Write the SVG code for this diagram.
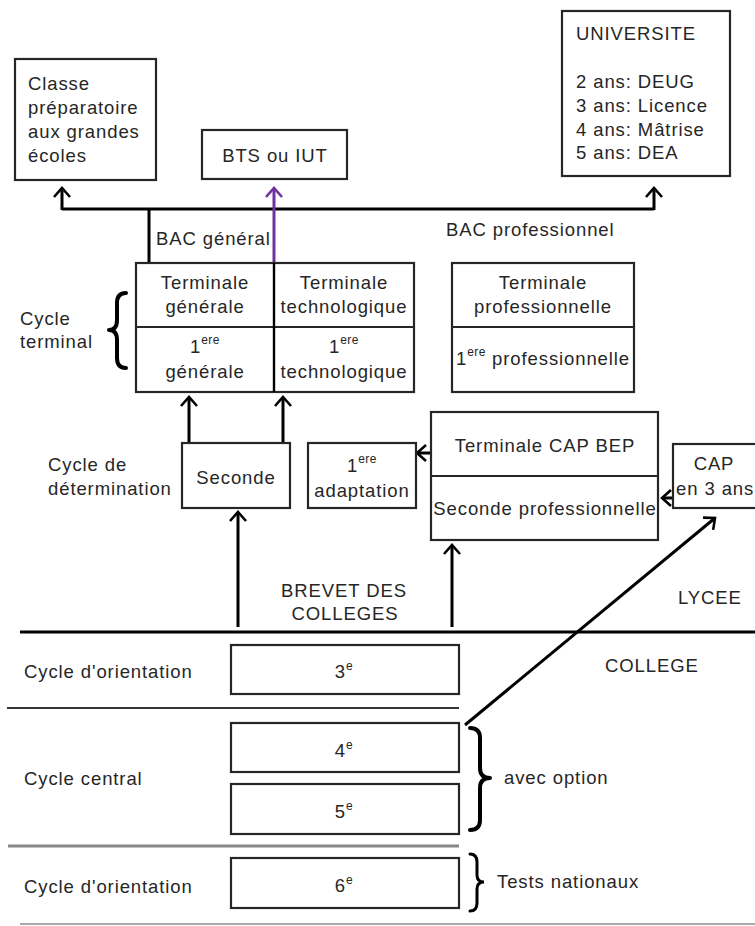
<svg xmlns="http://www.w3.org/2000/svg" width="755" height="926" viewBox="0 0 755 926">
<style>
text{font-family:"Liberation Sans",Arial,sans-serif;font-size:18.5px;letter-spacing:0.9px;fill:#262626}
.c{text-anchor:middle}
.sup{font-size:12px;letter-spacing:0.5px}
.box{fill:#fff;stroke:#262626;stroke-width:2.2}
.ln{stroke:#000;stroke-width:3;fill:none}
.br{stroke:#000;stroke-width:4;fill:none;stroke-linecap:round;stroke-linejoin:round}
</style>
<defs>
<marker id="ah" viewBox="-11 -10 14 20" markerWidth="14" markerHeight="20" refX="0" refY="0" orient="auto" markerUnits="userSpaceOnUse">
<path d="M-9,-8 L0,0 L-9,8" fill="none" stroke="#000" stroke-width="2.6"/>
</marker>
<marker id="ahp" viewBox="-11 -10 14 20" markerWidth="14" markerHeight="20" refX="0" refY="0" orient="auto" markerUnits="userSpaceOnUse">
<path d="M-9,-8 L0,0 L-9,8" fill="none" stroke="#7030a0" stroke-width="2.6"/>
</marker>
</defs>
<rect width="755" height="926" fill="#fff"/>

<g id="connectors">
<line class="ln" x1="62" y1="209" x2="654" y2="209"/>
<line class="ln" x1="62" y1="210" x2="62" y2="188" marker-end="url(#ah)"/>
<line class="ln" x1="654" y1="210" x2="654" y2="188" marker-end="url(#ah)"/>
<line class="ln" x1="149" y1="208" x2="149" y2="263"/>
<line x1="274" y1="263" x2="274" y2="188" stroke="#7030a0" stroke-width="3" marker-end="url(#ahp)"/>
<line class="ln" x1="189" y1="443" x2="189" y2="397" marker-end="url(#ah)"/>
<line class="ln" x1="283" y1="443" x2="283" y2="397" marker-end="url(#ah)"/>
<line class="ln" x1="238" y1="627" x2="238" y2="512" marker-end="url(#ah)"/>
<line class="ln" x1="452" y1="627" x2="452" y2="545" marker-end="url(#ah)"/>
<line class="ln" x1="465" y1="725" x2="715" y2="518" marker-end="url(#ah)"/>
<line class="ln" x1="431" y1="453" x2="417" y2="453" marker-end="url(#ah)"/>
<line class="ln" x1="673" y1="498" x2="662" y2="498" marker-end="url(#ah)"/>
</g>

<g id="separators">
<line x1="20" y1="632" x2="755" y2="632" stroke="#000" stroke-width="3.2"/>
<line x1="7" y1="708" x2="459" y2="708" stroke="#333" stroke-width="2"/>
<line x1="8" y1="846" x2="459" y2="846" stroke="#888" stroke-width="3"/>
<line x1="20" y1="924" x2="755" y2="924" stroke="#aaa" stroke-width="2"/>
</g>

<g id="classe-prepa">
<rect class="box" x="15" y="59" width="141" height="121"/>
<text x="28" y="90">Classe</text>
<text x="28" y="114">préparatoire</text>
<text x="28" y="138">aux grandes</text>
<text x="28" y="162">écoles</text>
</g>

<g id="bts">
<rect class="box" x="202" y="130" width="145" height="49"/>
<text class="c" x="275" y="162">BTS ou IUT</text>
</g>

<g id="universite">
<rect class="box" x="562" y="11" width="168" height="165"/>
<text x="576" y="40">UNIVERSITE</text>
<text x="576" y="88">2 ans: DEUG</text>
<text x="576" y="112">3 ans: Licence</text>
<text x="576" y="136">4 ans: Mâtrise</text>
<text x="576" y="159">5 ans: DEA</text>
</g>

<g id="bac-labels">
<text x="156" y="245">BAC général</text>
<text x="446" y="236">BAC professionnel</text>
</g>

<g id="cycle-terminal">
<text x="20" y="325">Cycle</text>
<text x="20" y="348">terminal</text>
<path class="br" d="M126,293 Q117,293 117,303 L117,320 Q117,330 109,330 Q117,330 117,340 L117,358 Q117,368 126,368"/>
</g>

<g id="grid-general-techno">
<rect class="box" x="136" y="263" width="278" height="129"/>
<line x1="136" y1="327" x2="414" y2="327" stroke="#262626" stroke-width="2.2"/>
<line x1="274" y1="263" x2="274" y2="392" stroke="#000" stroke-width="2.4"/>
<text class="c" x="205" y="289">Terminale</text>
<text class="c" x="205" y="313">générale</text>
<text class="c" x="344" y="289">Terminale</text>
<text class="c" x="344" y="313">technologique</text>
<text class="c" x="205" y="353">1<tspan class="sup" dy="-9">ere</tspan></text>
<text class="c" x="205" y="378">générale</text>
<text class="c" x="344" y="353">1<tspan class="sup" dy="-9">ere</tspan></text>
<text class="c" x="344" y="378">technologique</text>
</g>

<g id="terminale-pro">
<rect class="box" x="452" y="263" width="182" height="129"/>
<line x1="452" y1="327" x2="634" y2="327" stroke="#262626" stroke-width="2.2"/>
<text class="c" x="543" y="289">Terminale</text>
<text class="c" x="543" y="313">professionnelle</text>
<text class="c" x="543" y="365">1<tspan class="sup" dy="-9">ere</tspan><tspan dy="9"> professionnelle</tspan></text>
</g>

<g id="cycle-determination">
<text x="48" y="471">Cycle de</text>
<text x="48" y="495">détermination</text>
</g>

<g id="seconde">
<rect class="box" x="182" y="443" width="108" height="65"/>
<text class="c" x="236" y="484">Seconde</text>
</g>

<g id="adaptation">
<rect class="box" x="308" y="443" width="108" height="65"/>
<text class="c" x="362" y="472">1<tspan class="sup" dy="-9">ere</tspan></text>
<text class="c" x="362" y="497">adaptation</text>
</g>

<g id="cap-bep">
<rect class="box" x="431" y="412" width="227" height="128"/>
<line x1="431" y1="476" x2="658" y2="476" stroke="#262626" stroke-width="2.2"/>
<text class="c" x="545" y="452">Terminale CAP BEP</text>
<text class="c" x="545" y="515">Seconde professionnelle</text>
</g>

<g id="cap3">
<rect class="box" x="673" y="444" width="100" height="64"/>
<text class="c" x="714" y="470">CAP</text>
<text x="676" y="495">en 3 ans</text>
</g>

<g id="labels-middle">
<text class="c" x="344" y="597">BREVET DES</text>
<text class="c" x="345" y="620">COLLEGES</text>
<text x="678" y="604">LYCEE</text>
<text x="605" y="672">COLLEGE</text>
</g>

<g id="troisieme">
<text x="24" y="678">Cycle d'orientation</text>
<rect class="box" x="231" y="645" width="228" height="49"/>
<text class="c" x="344" y="678">3<tspan class="sup" dy="-8">e</tspan></text>
</g>

<g id="quatrieme">
<rect class="box" x="231" y="723" width="228" height="49"/>
<text class="c" x="344" y="757">4<tspan class="sup" dy="-8">e</tspan></text>
</g>

<g id="cinquieme">
<rect class="box" x="231" y="784" width="228" height="50"/>
<text class="c" x="344" y="818">5<tspan class="sup" dy="-8">e</tspan></text>
</g>

<g id="cycle-central">
<text x="24" y="785">Cycle central</text>
<path class="br" d="M470,728 Q480,728 480,738 L480,768 Q480,778 490,778 Q480,778 480,788 L480,820 Q480,830 470,830"/>
<text x="504" y="784">avec option</text>
</g>

<g id="sixieme">
<text x="24" y="893">Cycle d'orientation</text>
<rect class="box" x="231" y="858" width="228" height="50"/>
<text class="c" x="344" y="892">6<tspan class="sup" dy="-8">e</tspan></text>
<path d="M470,854 Q477,854 477,862 L477,875 Q477,882 484,882 Q477,882 477,889 L477,903 Q477,911 470,911" fill="none" stroke="#000" stroke-width="3" stroke-linecap="round"/>
<text x="497" y="888">Tests nationaux</text>
</g>
</svg>
